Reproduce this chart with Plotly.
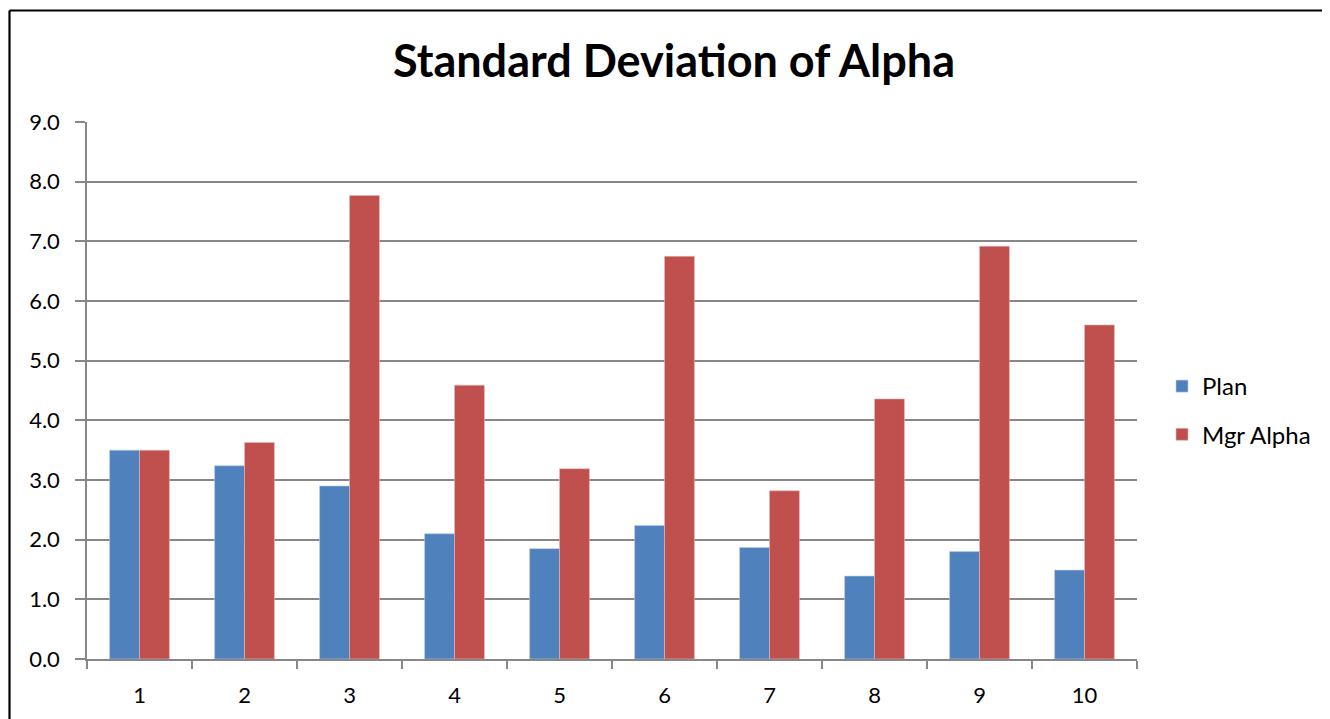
import plotly.graph_objects as go

categories = ["1", "2", "3", "4", "5", "6", "7", "8", "9", "10"]
plan = [3.50, 3.24, 2.90, 2.10, 1.85, 2.24, 1.87, 1.39, 1.80, 1.49]
mgr_alpha = [3.50, 3.63, 7.77, 4.59, 3.19, 6.75, 2.82, 4.36, 6.92, 5.60]
y_ticks = [0, 1, 2, 3, 4, 5, 6, 7, 8, 9]

OFF = 8  # page body margin
W, H = 1330, 719
L, R, T, B = 87 - OFF, 1137 - OFF, 122 - OFF, 659 - OFF
FONT = "Lato"
GRID = "#878787"

fig = go.Figure()
fig.add_trace(go.Bar(x=categories, y=plan, name="Plan", legendgroup="a",
                     marker=dict(color="#4F81BD", line=dict(color="#B9CDE5", width=0.6))))
fig.add_trace(go.Bar(x=categories, y=mgr_alpha, name="Mgr Alpha", legendgroup="b",
                     marker=dict(color="#C0504D", line=dict(color="#E6B9B8", width=0.6))))

def px(xp):
    return (xp - OFF - L) / (R - L)

def py(yp):
    return (B - (yp - OFF)) / (B - T)

# chart-area border (left and top edges visible)
fig.add_shape(type="line", xref="paper", yref="paper",
              x0=px(9.5), x1=px(9.5), y0=py(760), y1=py(10.5),
              line=dict(color="black", width=2.2))
fig.add_shape(type="line", xref="paper", yref="paper",
              x0=px(9.5), x1=px(1400), y0=py(10.5), y1=py(10.5),
              line=dict(color="black", width=2.2))

fig.update_layout(
    width=W, height=H,
    margin=dict(l=L, r=W - R, t=T, b=H - B, pad=0),
    paper_bgcolor="white", plot_bgcolor="white",
    barmode="group", bargap=0.43, bargroupgap=0,
    font=dict(family=FONT, color="black", size=22),
    title=dict(text="<b>Standard Deviation of Alpha</b>", x=(674 - OFF) / W, xanchor="center",
               y=1 - (61 - OFF) / H, yanchor="middle", xref="container", yref="container",
               font=dict(family=FONT, size=45, color="black")),
    legend=dict(x=px(1162), y=py(364), xanchor="left", yanchor="top",
                font=dict(family=FONT, size=24), tracegroupgap=14,
                bgcolor="rgba(0,0,0,0)"),
    xaxis=dict(type="category", tickson="boundaries", ticks="outside", ticklen=8,
               tickcolor=GRID, tickwidth=1.5, showline=True, linecolor=GRID, linewidth=1.5,
               showgrid=False, tickfont=dict(family=FONT, size=22), ticklabelstandoff=16),
    yaxis=dict(range=[0, 9.002], tickvals=y_ticks, tickformat=".1f", ticks="outside", ticklen=10,
               tickcolor=GRID, tickwidth=1.5, showline=True, linecolor=GRID, linewidth=1.5,
               showgrid=True, gridcolor=GRID, gridwidth=1.5, zeroline=False,
               tickfont=dict(family=FONT, size=22), ticklabelstandoff=11),
)

fig.write_html("out.html")
